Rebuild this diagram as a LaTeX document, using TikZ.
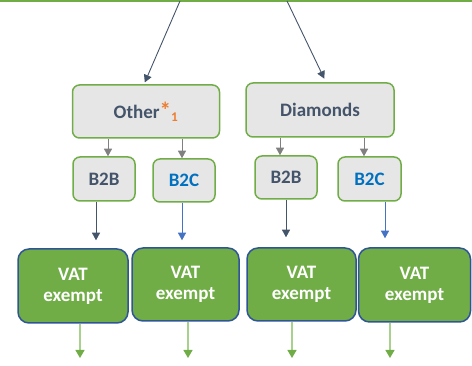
\documentclass[tikz,border=0pt]{standalone}
\usepackage{fontspec}
\setmainfont{Carlito}
\usepackage{xcolor}
\usepackage{tikz}
\usetikzlibrary{arrows.meta, positioning}

\definecolor{gruen}{HTML}{70AD47}
\definecolor{hellgruen}{HTML}{A9D18E}
\definecolor{schiefer}{HTML}{44546A}
\definecolor{blau}{HTML}{4472C4}
\definecolor{textblau}{HTML}{0070C0}
\definecolor{sternorange}{HTML}{ED7D31}
\definecolor{grau}{HTML}{808080}
\definecolor{kasten}{HTML}{E7E6E6}
\definecolor{rahmenblau}{HTML}{2F5597}

\begin{document}
\begin{tikzpicture}[
	x=1pt, y=-1pt,
	font=\fontsize{19}{21}\selectfont\bfseries,
	kategorie/.style={
		draw=gruen,
		line width=1.5pt,
		fill=kasten,
		rounded corners=7pt,
		inner sep=0pt,
		text=schiefer
	},
	vat/.style={
		draw=rahmenblau,
		line width=1.5pt,
		fill=gruen,
		rounded corners=11pt,
		inner sep=0pt,
		align=center,
		text=white
	},
	pfeil/.style={
		-{Triangle[width=8pt, length=7.5pt]},
		line width=0.9pt
	},
	gruenpfeil/.style={
		-{Triangle[width=9pt, length=8pt, color=gruen]},
		draw=hellgruen,
		line width=1.2pt
	}
]
	\useasboundingbox (0,0) rectangle (472,366);

	% Linie oben
	\draw[
		gruen,
		line width=2.5pt
	] (0,1) -- (472,1);
	\coordinate (oben-links)  at (180,1);
	\coordinate (oben-rechts) at (287,1);

	% Kategorien
	\node[
		kategorie,
		minimum width=147pt,
		minimum height=53pt
	] (other) at (146,111.5) {Other{\color{sternorange}{\fontsize{23}{23}\selectfont *}\textsubscript{1}}};
	\node[
		kategorie,
		minimum width=148pt,
		minimum height=54pt
	] (diamonds) at (320,110) {Diamonds};

	% Kunden
	\node[
		kategorie,
		minimum width=62pt,
		minimum height=44pt
	] (b2b-links) at (104,179) {B2B};
	\node[
		kategorie,
		minimum width=62pt,
		minimum height=43pt,
		text=textblau
	] (b2c-links) at (184,180.5) {B2C};
	\node[
		kategorie,
		minimum width=62pt,
		minimum height=43pt
	] (b2b-rechts) at (286,177.5) {B2B};
	\node[
		kategorie,
		minimum width=63pt,
		minimum height=44pt,
		text=textblau
	] (b2c-rechts) at (369.5,179) {B2C};

	% VAT exempt
	\node[
		vat,
		minimum width=110pt,
		minimum height=74pt
	] (vat-a) at (73,286) {VAT\\exempt};
	\node[
		vat,
		minimum width=107pt,
		minimum height=73pt
	] (vat-b) at (185.5,284.5) {VAT\\exempt};
	\node[
		vat,
		minimum width=109pt,
		minimum height=73pt
	] (vat-c) at (301.5,284.5) {VAT\\exempt};
	\node[
		vat,
		minimum width=112pt,
		minimum height=74pt
	] (vat-d) at (414.5,285) {VAT\\exempt};

	% Enden unten
	\coordinate (ende-a) at (80,358);
	\coordinate (ende-b) at (188,358);
	\coordinate (ende-c) at (292,358);
	\coordinate (ende-d) at (390,358);

	% Pfeile oben
	\draw[pfeil, schiefer, shorten >=2pt] (oben-links)  -- ([xshift=-2pt]other.north);
	\draw[pfeil, schiefer, shorten >=4pt] (oben-rechts) -- ([xshift=6pt]diamonds.north);

	% Pfeile zu den Kunden
	\draw[pfeil, grau] (other.south -| 108,0)    -- (b2b-links.north -| 108,0);
	\draw[pfeil, grau] (other.south -| 182,0)    -- (b2c-links.north -| 182,0);
	\draw[pfeil, grau] (diamonds.south -| 280,0) -- (b2b-rechts.north -| 280,0);
	\draw[pfeil, grau] (diamonds.south -| 364,0) -- (b2c-rechts.north -| 364,0);

	% Pfeile zu VAT
	\draw[pfeil, schiefer, shorten >=8pt] (b2b-links.south -| 96,0)  -- (vat-a.north -| 96,0);
	\draw[pfeil, blau, shorten >=7pt]     (b2c-links.south -| 182,0) -- (vat-b.north -| 182,0);
	\draw[pfeil, schiefer, shorten >=10pt] (b2b-rechts.south -| 286,0) -- (vat-c.north -| 286,0);
	\draw[pfeil, blau, shorten >=9pt]     (b2c-rechts.south -| 385,0) -- (vat-d.north -| 385,0);

	% Pfeile unten
	\draw[gruenpfeil] (vat-a.south -| ende-a) -- (ende-a);
	\draw[gruenpfeil] (vat-b.south -| ende-b) -- (ende-b);
	\draw[gruenpfeil] (vat-c.south -| ende-c) -- (ende-c);
	\draw[gruenpfeil] (vat-d.south -| ende-d) -- (ende-d);
\end{tikzpicture}
\end{document}
